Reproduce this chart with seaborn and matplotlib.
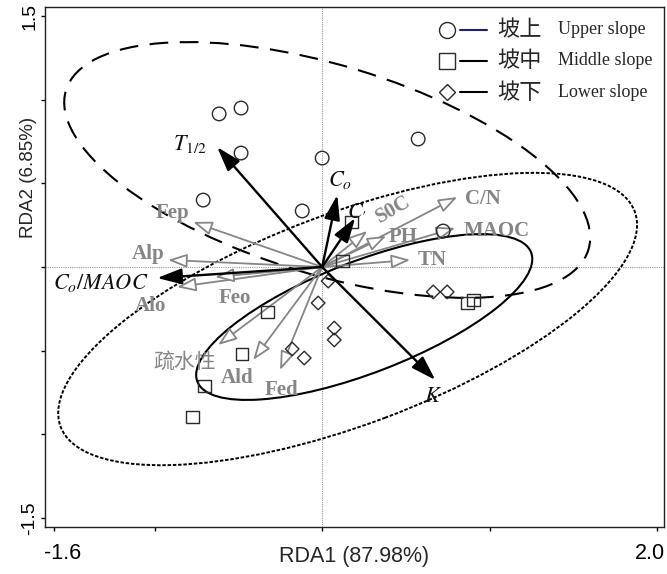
import numpy as np
import pandas as pd
import matplotlib
matplotlib.use("Agg")
import matplotlib.pyplot as plt
import seaborn as sns
from matplotlib.patches import Ellipse

# ---- sample scores on RDA1 / RDA2 -------------------------------------
upper_x = [-0.615, -0.484, -0.484, -0.710, -0.119, 0.000, 0.573, 0.722]
upper_y = [0.915, 0.950, 0.681, 0.400, 0.335, 0.651, 0.765, 0.215]
middle_x = [0.173, 0.119, -0.328, -0.478, -0.704, -0.776, 0.866, 0.901]
middle_y = [0.269, 0.036, -0.269, -0.520, -0.711, -0.897, -0.215, -0.197]
lower_x = [0.036, -0.024, 0.072, 0.072, -0.179, -0.107, 0.663, 0.746]
lower_y = [-0.084, -0.215, -0.365, -0.436, -0.490, -0.544, -0.149, -0.149]

# ---- response variables (black arrows) ---------------------------------
resp_labels = [r"$T_{1/2}$", r"$C_o$", r"$C_{\prime}$", r"$C_o/MAOC$", r"$K$"]
resp_x = [-0.627, 0.090, 0.197, -0.985, 0.675]
resp_y = [0.717, 0.430, 0.293, -0.066, -0.675]
resp_lab_x = [-0.788, 0.107, 0.210, -1.319, 0.663]
resp_lab_y = [0.735, 0.520, 0.345, -0.096, -0.777]

# ---- explanatory variables (grey arrows) -------------------------------
expl_labels = ["Fep", "Alp", "Alo", "Feo", "疏水性", "Ald", "Fed",
               "C/N", "S0C", "PH", "MAOC", "TN"]
expl_x = [-0.770, -0.919, -0.866, -0.639, -0.621, -0.412, -0.251,
          0.806, 0.269, 0.382, 0.794, 0.525]
expl_y = [0.269, 0.042, -0.120, -0.060, -0.466, -0.556, -0.616,
          0.418, 0.215, 0.185, 0.233, 0.042]
expl_lab_x = [-0.896, -1.039, -1.027, -0.519, -0.818, -0.507, -0.245,
              0.961, 0.424, 0.484, 1.039, 0.657]
expl_lab_y = [0.323, 0.078, -0.233, -0.185, -0.568, -0.663, -0.738,
              0.406, 0.341, 0.179, 0.215, 0.042]
expl_lab_rot = [0, 0, 0, 0, 0, 0, 0, 0, 30, 0, 0, 0]

# ---- confidence ellipses per slope position ----------------------------
ell_names = ["Upper", "Middle", "Lower"]
ell_cx = [0.030, 0.152, 0.251]
ell_cy = [0.580, -0.311, -0.299]
ell_w = [3.26, 3.66, 2.136]
ell_h = [1.25, 1.262, 0.666]
ell_angle = [-17.0, 20.6, 21.2]

legend_zh = ["坡上", "坡中", "坡下"]
legend_en = ["Upper slope", "Middle slope", "Lower slope"]

# ------------------------------------------------------------------------
sns.set_style("ticks")
plt.rcParams["font.family"] = ["Liberation Sans", "Noto Sans CJK SC"]
plt.rcParams["mathtext.fontset"] = "stix"

fig = plt.figure(figsize=(6.67, 5.74), dpi=100)
ax = fig.add_axes([0.0675, 0.0819, 0.928, 0.9059])

GREY = "#858585"

# reference lines through the origin
ax.axhline(0, color="#9a9a9a", lw=0.8, ls=(0, (1, 1)), zorder=0)
ax.axvline(0, color="#9a9a9a", lw=0.8, ls=(0, (1, 1)), zorder=0)

# ellipses
ell_styles = {
    "Upper": dict(ls=(0, (9, 5.5)), lw=1.5),
    "Middle": dict(ls=(0, (1.8, 0.9)), lw=1.4),
    "Lower": dict(ls="-", lw=1.5),
}
for name, cx, cy, w, h, a in zip(ell_names, ell_cx, ell_cy, ell_w, ell_h, ell_angle):
    ax.add_patch(Ellipse((cx, cy), w, h, angle=a, fill=False, ec="black",
                         zorder=1, **ell_styles[name]))

# explanatory arrows: grey with open heads
for x, y in zip(expl_x, expl_y):
    ax.annotate("", xy=(x, y), xytext=(0, 0),
                arrowprops=dict(arrowstyle="-|>,head_length=1.15,head_width=0.42",
                                mutation_scale=10, lw=1.3, ec=GREY, fc="white",
                                shrinkA=0, shrinkB=0), zorder=3)
for s, x, y, r in zip(expl_labels, expl_lab_x, expl_lab_y, expl_lab_rot):
    if s == "疏水性":
        ax.text(x, y, s, ha="center", va="center", color=GREY, fontsize=15,
                family=["Noto Sans CJK SC"], zorder=6)
    else:
        ax.text(x, y, s, ha="center", va="center", color=GREY, fontsize=15,
                family=["Liberation Serif"], fontweight="bold", rotation=r,
                zorder=6)

# response arrows: black with filled heads
for x, y in zip(resp_x, resp_y):
    ax.annotate("", xy=(x, y), xytext=(0, 0),
                arrowprops=dict(arrowstyle="-|>,head_length=1.5,head_width=0.48",
                                mutation_scale=10, lw=1.7, color="black",
                                shrinkA=0, shrinkB=0), zorder=5)
for s, x, y in zip(resp_labels, resp_lab_x, resp_lab_y):
    ax.text(x, y, s, ha="center", va="center", color="#111111", fontsize=16,
            zorder=6)

# sample scores
groups = pd.DataFrame({
    "x": upper_x + middle_x + lower_x,
    "y": upper_y + middle_y + lower_y,
    "slope": ["Upper"] * len(upper_x) + ["Middle"] * len(middle_x) + ["Lower"] * len(lower_x),
})
group_marker = {"Upper": ("o", 95), "Middle": ("s", 85), "Lower": ("D", 48)}
for name, (m, s) in group_marker.items():
    sns.scatterplot(data=groups[groups.slope == name], x="x", y="y", marker=m,
                    s=s, facecolor="none", edgecolor="#2a2a2a", linewidth=1.0,
                    legend=False, ax=ax, zorder=4)

# legend: marker, short line, Chinese and English name
leg_y = [0.9558, 0.8962, 0.8365]
leg_marker = [("o", 11.5), ("s", 11), ("D", 8)]
leg_line = ["#1c1c7a", "black", "black"]
for yy, (m, ms), lc, zh, en in zip(leg_y, leg_marker, leg_line, legend_zh, legend_en):
    ax.plot([0.6494], [yy], marker=m, ms=ms, mfc="none", mec="#2a2a2a", mew=1.0,
            transform=ax.transAxes, clip_on=False)
    ax.plot([0.6704, 0.714], [yy, yy], color=lc, lw=1.5, transform=ax.transAxes)
    ax.text(0.730, yy, zh, transform=ax.transAxes, va="center", ha="left",
            fontsize=16, family=["Noto Sans CJK SC"], fontweight="light")
    ax.text(0.8288, yy, en, transform=ax.transAxes, va="center", ha="left",
            fontsize=13, family=["Liberation Serif"])

# axes
ax.set_xlim(-1.654, 2.04)
ax.set_ylim(-1.554, 1.554)
ax.set_xticks([-1.6, -1.0, 0.0, 1.0, 2.0])
ax.set_xticklabels(["-1.6", "", "", "", "2.0"], fontsize=15.5)
xt = ax.get_xticklabels()
xt[0].set_horizontalalignment("left")
xt[0].set_x(-1.6)
xt[-1].set_horizontalalignment("right")
ax.set_yticks([-1.5, -1.0, -0.5, 0.0, 0.5, 1.0, 1.5])
ax.set_yticklabels(["-1.5", "", "", "", "", "", "1.5"], fontsize=14,
                   rotation=90, va="center")
ax.tick_params(axis="x", direction="out", length=3, width=1, pad=8.5, colors="black")
ax.tick_params(axis="y", direction="out", length=3, width=1, pad=2, colors="black")
for sp in ax.spines.values():
    sp.set_visible(True)
    sp.set_color("#222222")
    sp.set_linewidth(1.0)

# shift the end labels so they sit like centred text nudged inward
import matplotlib.transforms as mtransforms
xt[0].set_transform(xt[0].get_transform() + mtransforms.ScaledTranslation(-10 / 100, 0, fig.dpi_scale_trans))
xt[-1].set_transform(xt[-1].get_transform() + mtransforms.ScaledTranslation(8 / 100, 0, fig.dpi_scale_trans))

ax.set_xlabel("RDA1 (87.98%)", fontsize=15.5)
ax.set_ylabel("RDA2 (6.85%)", fontsize=13.5)
ax.xaxis.set_label_coords(0.5, -0.036)
ax.yaxis.set_label_coords(-0.013, 0.673)

fig.savefig("out.png", dpi=100)
